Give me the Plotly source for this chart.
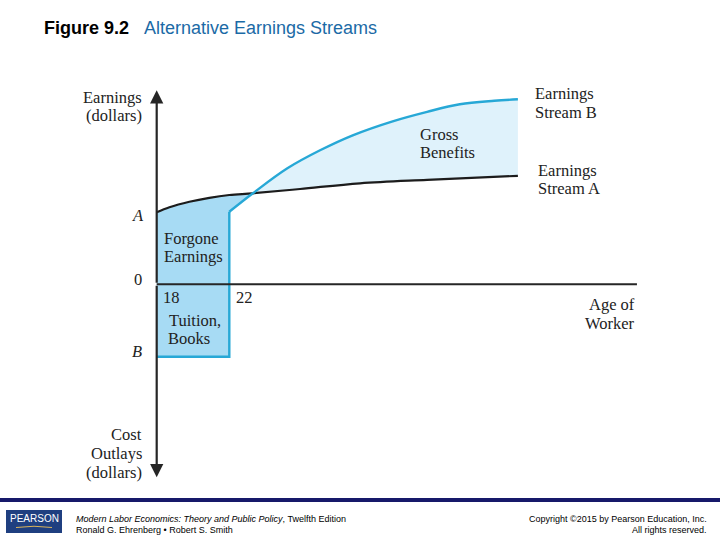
import plotly.graph_objects as go

# ---------------- data (ages in years, earnings in arbitrary dollar units) ----------------
ages_a = [18, 18.7, 19.8, 20.9, 22.0, 23.3, 25.9, 29.2, 32.9, 37.9]
stream_a = [72, 77, 82.5, 86.5, 89.3, 91, 95.3, 101, 104.5, 108.5]

ages_b = [22, 23.3, 25.2, 27.0, 28.8, 31.0, 32.9, 34.7, 36.6, 37.9]
stream_b = [72.5, 91, 116, 134, 149, 163, 172.5, 180, 183.5, 185]

college_start = 18
college_end = 22
tuition_cost = -72.5
cross_idx_a = 5   # index in stream A where B crosses A
cross_idx_b = 1   # index in stream B where B crosses A

axis_top = 194
axis_bottom = -193
axis_right_age = 44.46

# ---------------- layout geometry ----------------
W, H = 720, 540
PX_PER_YEAR = 18.15
X_AXIS_PX = 156.7
Y_ZERO_PX = 284.3
x_range = [college_start - X_AXIS_PX / PX_PER_YEAR, college_start + (W - X_AXIS_PX) / PX_PER_YEAR]
y_range = [Y_ZERO_PX - H, Y_ZERO_PX]

def px(x):
    return x / W

def py(y):
    return 1 - y / H

DARK_FILL = "#a7dbf4"
LIGHT_FILL = "#dff2fb"
B_COLOR = "#27a8d6"
A_COLOR = "#1c1c1c"
AXIS_COLOR = "#262626"

fig = go.Figure()

# forgone earnings + tuition region
fig.add_trace(go.Scatter(x=ages_a[:cross_idx_a + 1], y=stream_a[:cross_idx_a + 1], mode="lines",
                         line=dict(width=0, shape="spline"), hoverinfo="skip", showlegend=False))
fig.add_trace(go.Scatter(
    x=[college_start, college_end, college_end] + ages_b[cross_idx_b:cross_idx_b + 1],
    y=[tuition_cost, tuition_cost, stream_b[0]] + stream_b[cross_idx_b:cross_idx_b + 1],
    mode="lines", line=dict(width=0), fill="tonexty", fillcolor=DARK_FILL,
    hoverinfo="skip", showlegend=False))

# gross benefits region
fig.add_trace(go.Scatter(x=ages_a[cross_idx_a:], y=stream_a[cross_idx_a:], mode="lines",
                         line=dict(width=0, shape="spline"), hoverinfo="skip", showlegend=False))
fig.add_trace(go.Scatter(x=ages_b[cross_idx_b:], y=stream_b[cross_idx_b:], mode="lines",
                         line=dict(width=0, shape="spline"), fill="tonexty", fillcolor=LIGHT_FILL,
                         hoverinfo="skip", showlegend=False))

# earnings stream A
fig.add_trace(go.Scatter(x=ages_a, y=stream_a, mode="lines",
                         line=dict(color=A_COLOR, width=2.2, shape="spline"),
                         hoverinfo="skip", showlegend=False))
# earnings stream B: costs part and earnings part
fig.add_trace(go.Scatter(x=[college_start, college_end, college_end],
                         y=[tuition_cost, tuition_cost, stream_b[0]], mode="lines",
                         line=dict(color=B_COLOR, width=2.4), hoverinfo="skip", showlegend=False))
fig.add_trace(go.Scatter(x=ages_b, y=stream_b, mode="lines",
                         line=dict(color=B_COLOR, width=2.4, shape="spline"),
                         hoverinfo="skip", showlegend=False))

shapes = [
    # x axis
    dict(type="line", xref="x", yref="y", x0=college_start, x1=axis_right_age, y0=0, y1=0,
         line=dict(color=AXIS_COLOR, width=2)),
    # footer rule
    dict(type="line", xref="paper", yref="paper", x0=0, x1=1, y0=py(500), y1=py(500),
         line=dict(color="#16196a", width=4)),
    # Pearson logo box
    dict(type="rect", xref="paper", yref="paper", x0=px(6), x1=px(62), y0=py(533), y1=py(510),
         fillcolor="#1f3f80", line=dict(width=0)),
    dict(type="path", xref="paper", yref="paper",
         path=f"M {px(16)},{py(527.5)} Q {px(34)},{py(525)} {px(52)},{py(527.5)}",
         line=dict(color="#d9b45c", width=1)),
]

annotations = [
    # y axis with arrowheads
    dict(x=college_start, y=axis_top, ax=college_start, ay=0, xref="x", yref="y", axref="x", ayref="y",
         showarrow=True, arrowhead=2, arrowsize=1.2, arrowwidth=2.2, arrowcolor=AXIS_COLOR, text=""),
    dict(x=college_start, y=axis_bottom, ax=college_start, ay=0, xref="x", yref="y", axref="x", ayref="y",
         showarrow=True, arrowhead=2, arrowsize=1.2, arrowwidth=2.2, arrowcolor=AXIS_COLOR, text=""),
]

SERIF = "Liberation Serif"
FS = 16.5

def add_text(text, x_px, y_px, xanchor="left", size=FS, family=SERIF, color="#222222", italic=False):
    if italic:
        text = f"<i>{text}</i>"
    annotations.append(dict(text=text, x=px(x_px), y=py(y_px), xref="paper", yref="paper",
                            xanchor=xanchor, yanchor="middle", showarrow=False,
                            font=dict(family=family, size=size, color=color)))

add_text("Earnings", 144, 97.3, "right")
add_text("(dollars)", 144, 115, "right")
add_text("A", 138.3, 215, "center", italic=True)
add_text("0", 138.3, 279.3, "center")
add_text("B", 137.3, 351.7, "center", italic=True)
add_text("Cost", 144, 434, "right")
add_text("Outlays", 144, 453.3, "right")
add_text("(dollars)", 144, 472.7, "right")
add_text("18", 161, 297.3)
add_text("22", 233.7, 297.3)
add_text("Tuition,", 167, 320)
add_text("Books", 166, 338.3)
add_text("Forgone", 162, 238.3)
add_text("Earnings", 162, 256.7)
add_text("Gross", 418, 134.3)
add_text("Benefits", 418, 152.7)
add_text("Earnings", 533, 94)
add_text("Stream B", 533, 112.7)
add_text("Earnings", 535.5, 170.7)
add_text("Stream A", 535.5, 188.3)
add_text("Age of", 636.5, 304.3, "right")
add_text("Worker", 636.5, 323.3, "right")

# title
add_text("<b>Figure 9.2</b>", 42, 28, size=18, family="Arial", color="#000000")
add_text("Alternative Earnings Streams", 142, 28, size=18, family="Arial", color="#1b6aa6")

# footer
add_text("PEARSON", 34, 518.5, "center", size=10, family="Arial", color="#ffffff")
add_text("<i>Modern Labor Economics: Theory and Public Policy</i>, Twelfth Edition", 74, 518.5,
         size=9, family="Arial", color="#000000")
add_text("Ronald G. Ehrenberg • Robert S. Smith", 74, 529.5, size=9, family="Arial", color="#000000")
add_text("Copyright ©2015 by Pearson Education, Inc.", 709, 518.5, "right", size=9, family="Arial",
         color="#000000")
add_text("All rights reserved.", 709, 529.5, "right", size=9, family="Arial", color="#000000")

fig.update_layout(
    width=W, height=H,
    margin=dict(l=0, r=0, t=0, b=0),
    paper_bgcolor="white", plot_bgcolor="white",
    xaxis=dict(range=x_range, visible=False, fixedrange=True),
    yaxis=dict(range=y_range, visible=False, fixedrange=True),
    shapes=shapes, annotations=annotations,
    showlegend=False,
)

fig.write_html("out.html", config={"displayModeBar": False},
               post_script="document.body.style.margin='0';document.body.style.overflow='hidden';")
